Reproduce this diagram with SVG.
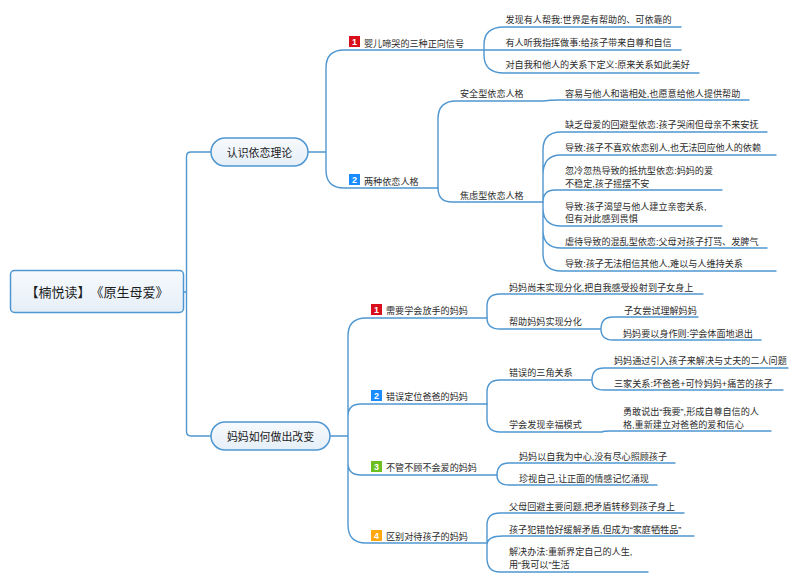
<svg xmlns="http://www.w3.org/2000/svg" width="800" height="583" viewBox="0 0 800 583">
<style>
text{font-family:"Liberation Sans","Noto Sans CJK SC",sans-serif;font-size:9.1px;fill:#2b2b2b;text-spacing-trim:space-all}
.c{fill:none;stroke:#4f97d1;stroke-width:1.4;stroke-linecap:round}
.n{fill:url(#g);stroke:#4f97d1;stroke-width:1.5}
.t{font-size:10.9px;fill:#1c1c1c;text-anchor:middle}
.b{fill:#fff;font-size:9px;font-weight:bold;text-anchor:middle}
</style>
<defs><linearGradient id="g" x1="0" y1="0" x2="0" y2="1"><stop offset="0" stop-color="#f7fafd"/><stop offset="1" stop-color="#e5eef8"/></linearGradient></defs>
<rect width="800" height="583" fill="#fff"/>
<g id="connectors">
<path class="c" d="M183 292H186.500M211 152H191Q186.500 152 186.500 156.500V431.500Q186.500 436 191 436H211"/>
<path class="c" d="M308 152H326M484 50H344Q326 50 326 68V170Q326 188 344 188H438"/>
<path class="c" d="M484 50H681M504 27Q484 27 484 45V55Q484 73 504 73H699M504 27H681"/>
<path class="c" d="M438 188Q438 188 438 176V119Q438 101 456 101H543Q550 100 560 100H749M438 176V188Q438 202 452 202H543"/>
<path class="c" d="M543 202V150Q543 132 561 132H767M543 175Q543 155 561 155H776M543 202Q543 190 555 190H722M543 202V208Q543 226 561 226H722M543 202V230Q543 248 561 248H767M543 202V253Q543 271 561 271H776"/>
<path class="c" d="M330 436H348M487 318H366Q348 318 348 336V525Q348 543 366 543H487M348 416Q348 404 361 404H487M348 463Q348 475 361 475H497"/>
<path class="c" d="M487 318V306Q487 294 500 294H703M487 318Q487 329 500 329H601M601 329Q601 317 613 317H698M601 329Q601 340 613 340H761"/>
<path class="c" d="M487 404V392Q487 380 500 380H592M487 404V419Q487 432 500 432H602Q604 431 610 431H771M592 380Q592 368 604 368H788M592 380Q592 390 604 390H783"/>
<path class="c" d="M497 475Q497 463 509 463H675M497 475Q497 485 509 485H657"/>
<path class="c" d="M487 543V525Q487 513 500 513H684M487 545Q487 536 503 536H694M487 543V558Q487 572 500 572H648"/>
</g>
<g id="root"><rect class="n" x="10.500" y="270.500" width="173" height="42" rx="4"/><text class="t" style="font-size:13px" x="97" y="297">【楠悦读】《原生母爱》</text></g>
<g id="n1"><rect class="n" x="211" y="138" width="97" height="28" rx="14"/><text class="t" x="259.500" y="157">认识依恋理论</text></g>
<g id="n2"><rect class="n" x="211" y="422" width="119" height="28" rx="14"/><text class="t" x="270.500" y="441">妈妈如何做出改变</text></g>
<g id="a1"><rect x="349" y="36" width="11" height="11" fill="#d9101b"/><text class="b" x="354.500" y="45">1</text><text x="364" y="46.500">婴儿啼哭的三种正向信号</text></g>
<g id="a2"><rect x="349" y="174" width="11" height="11" fill="#1a8cff"/><text class="b" x="354.500" y="183">2</text><text x="364" y="184.500">两种依恋人格</text></g>
<g id="b1"><rect x="371" y="304" width="11" height="11" fill="#d9101b"/><text class="b" x="376.500" y="313">1</text><text x="386" y="313.500">需要学会放手的妈妈</text></g>
<g id="b2"><rect x="371" y="390" width="11" height="11" fill="#1a8cff"/><text class="b" x="376.500" y="399">2</text><text x="386" y="399.500">错误定位爸爸的妈妈</text></g>
<g id="b3"><rect x="371" y="461" width="11" height="11" fill="#6cbf1e"/><text class="b" x="376.500" y="470">3</text><text x="386" y="470.500">不管不顾不会爱的妈妈</text></g>
<g id="b4"><rect x="371" y="530" width="11" height="11" fill="#ffa80f"/><text class="b" x="376.500" y="539">4</text><text x="386" y="539.500">区别对待孩子的妈妈</text></g>
<g id="leaves">
<text x="505.500" y="22.500">发现有人帮我:世界是有帮助的、可依靠的</text>
<text x="505.500" y="45.500">有人听我指挥做事:给孩子带来自尊和自信</text>
<text x="505.500" y="67.500">对自我和他人的关系下定义:原来关系如此美好</text>
<text x="460" y="96.500">安全型依恋人格</text>
<text x="460" y="198.500">焦虑型依恋人格</text>
<text x="565" y="96.500">容易与他人和谐相处,也愿意给他人提供帮助</text>
<text x="565" y="127.500">缺乏母爱的回避型依恋:孩子哭闹但母亲不来安抚</text>
<text x="565" y="150.500">导致:孩子不喜欢依恋别人,也无法回应他人的依赖</text>
<text x="565" y="173.500">忽冷忽热导致的抵抗型依恋:妈妈的爱</text>
<text x="565" y="186.500">不稳定,孩子摇摆不安</text>
<text x="565" y="209.500">导致:孩子渴望与他人建立亲密关系,</text>
<text x="565" y="221.500">但有对此感到畏惧</text>
<text x="565" y="244.500">虐待导致的混乱型依恋:父母对孩子打骂、发脾气</text>
<text x="565" y="266.500">导致:孩子无法相信其他人,难以与人维持关系</text>
<text x="509" y="290.500">妈妈尚未实现分化,把自我感受投射到子女身上</text>
<text x="509" y="324.500">帮助妈妈实现分化</text>
<text x="624" y="313.500">子女尝试理解妈妈</text>
<text x="623" y="336.500">妈妈要以身作则:学会体面地退出</text>
<text x="509" y="375.500">错误的三角关系</text>
<text x="509" y="427.500">学会发现幸福模式</text>
<text x="614" y="363.500">妈妈通过引入孩子来解决与丈夫的二人问题</text>
<text x="614" y="386.500">三家关系:坏爸爸+可怜妈妈+痛苦的孩子</text>
<text x="623" y="414.500">勇敢说出“我要”,形成自尊自信的人</text>
<text x="623" y="427.500">格,重新建立对爸爸的爱和信心</text>
<text x="519" y="459.500">妈妈以自我为中心,没有尽心照顾孩子</text>
<text x="519" y="481.500">珍视自己,让正面的情感记忆涌现</text>
<text x="509" y="509.500">父母回避主要问题,把矛盾转移到孩子身上</text>
<text x="509" y="532.500">孩子犯错恰好缓解矛盾,但成为“家庭牺牲品”</text>
<text x="509" y="554.500">解决办法:重新界定自己的人生,</text>
<text x="509" y="568">用“我可以”生活</text>
</g>
</svg>
